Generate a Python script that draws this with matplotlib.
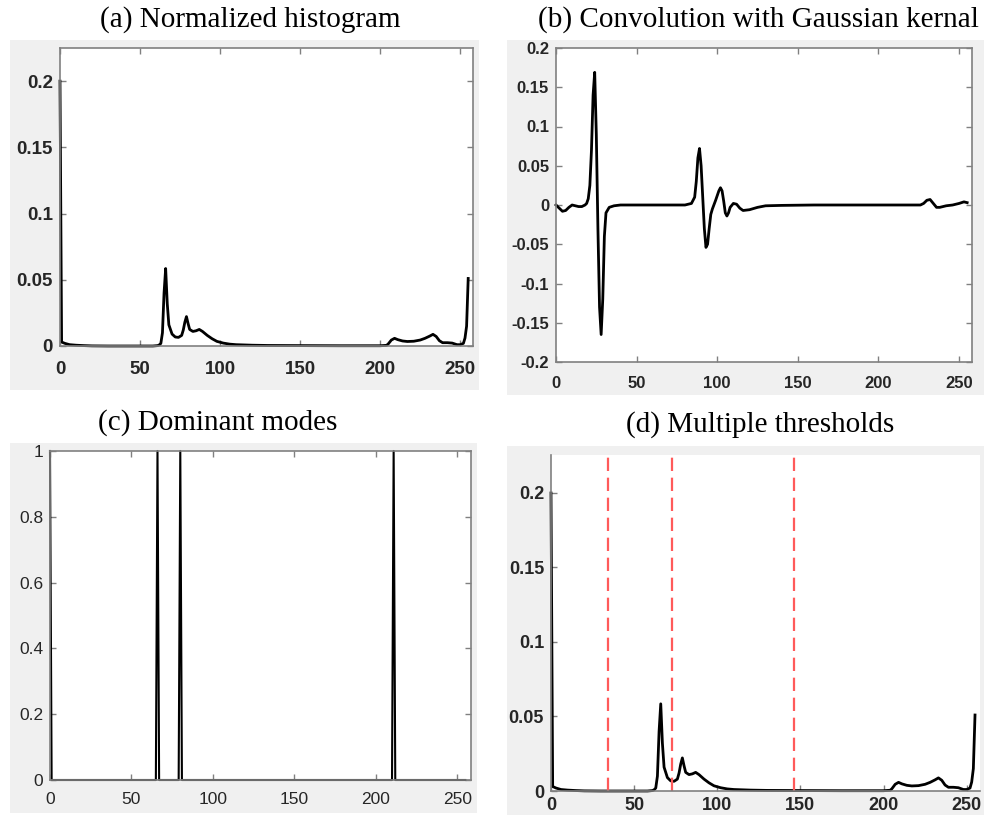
import numpy as np
import matplotlib
matplotlib.use("Agg")
import matplotlib.pyplot as plt
from matplotlib.patches import Rectangle

hist_x = [0, 1, 3, 6, 10, 15, 20, 30, 40, 50, 58, 61, 62, 63, 64, 65, 66, 67, 68, 70,
          72, 74, 76, 77, 78, 79, 80, 81, 83, 85, 87, 89, 92, 95, 98, 102, 106, 110,
          120, 130, 150, 175, 200, 204, 205, 207, 209, 211, 214, 217, 221, 225, 228,
          231, 233, 235, 237, 239, 242, 245, 248, 250, 252, 253, 254, 255]
hist_y = [0.200, 0.003, 0.002, 0.001, 0.0006, 0.0003, 0.0001, 0.0, 0.0, 0.0, 0.0,
          0.0003, 0.0008, 0.002, 0.010, 0.040, 0.0585, 0.032, 0.016, 0.009,
          0.0068, 0.0065, 0.008, 0.012, 0.018, 0.0222, 0.017, 0.0125, 0.011, 0.0115,
          0.0125, 0.011, 0.008, 0.0055, 0.0035, 0.0022, 0.0014, 0.0010,
          0.0006, 0.0004, 0.0003, 0.0002, 0.0002, 0.0005, 0.0015, 0.0045, 0.0058,
          0.0048, 0.0038, 0.0034, 0.0036, 0.0045, 0.0058, 0.0075, 0.0088, 0.0072,
          0.004, 0.0025, 0.0025, 0.0022, 0.0010, 0.0010, 0.002, 0.006, 0.015, 0.051]

# Convolution with derivative of Gaussian (panel b)
conv_x = [0, 2, 4, 6, 8, 10, 12, 14, 16, 18, 19, 20, 21, 22, 23, 24, 25, 26, 27, 28,
          29, 30, 31, 33, 36, 40, 60, 80, 84, 86, 87, 88, 89, 90, 91, 92, 93, 94, 95,
          96, 97, 99, 101, 102, 103, 104, 105, 106, 107, 108, 110, 112, 114, 116,
          120, 125, 130, 140, 160, 200, 226, 228, 230, 232, 234, 236, 238, 242, 246,
          250, 253, 255]
conv_y = [0.0, -0.004, -0.008, -0.007, -0.003, 0.0, -0.001, -0.002, -0.002, 0.0,
          0.002, 0.008, 0.025, 0.070, 0.140, 0.169, 0.090, -0.030, -0.130, -0.165,
          -0.120, -0.040, -0.010, -0.003, -0.001, 0.0, 0.0, 0.0, 0.002, 0.010,
          0.030, 0.060, 0.072, 0.050, 0.010, -0.030, -0.054, -0.050, -0.030, -0.012,
          -0.005, 0.006, 0.018, 0.022, 0.018, 0.005, -0.010, -0.014, -0.010, -0.003,
          0.002, 0.001, -0.004, -0.007, -0.006, -0.003, -0.001, -0.0005, 0.0, 0.0,
          0.0, 0.002, 0.006, 0.007, 0.002, -0.003, -0.003, -0.001, 0.0, 0.002,
          0.004, 0.003]

# Dominant modes (panel c) and thresholds (panel d)
mode_bins = [0, 66, 80, 211]
thresholds = [34, 73, 146]

levels = np.arange(256)
modes = np.zeros(256)
modes[mode_bins] = 1

W, H = 984, 815
fig = plt.figure(figsize=(W / 100, H / 100), dpi=100)


def frac(x0, y0, x1, y1):
    # pixel box (top-left origin) -> figure fraction [left, bottom, width, height]
    return [x0 / W, 1 - y1 / H, (x1 - x0) / W, (y1 - y0) / H]


# gray MATLAB figure backgrounds
for box in [(10, 40, 479, 390), (507, 40, 984, 395), (10, 443, 477, 813), (507, 446, 984, 815)]:
    l, b, w, h = frac(*box)
    fig.patches.append(Rectangle((l, b), w, h, transform=fig.transFigure,
                                 facecolor="#f0f0f0", edgecolor="none", zorder=-5))

tick_col = "#262626"
spine_col = "#808080"


def style(ax, size, weight, xpad, box=True):
    for s in ax.spines.values():
        s.set_color(spine_col)
        s.set_linewidth(1.2)
    if not box:
        ax.spines["top"].set_visible(False)
        ax.spines["right"].set_visible(False)
    ax.tick_params(direction="in", length=4, width=1, color=spine_col,
                   top=box, right=box, labelsize=size, labelcolor=tick_col)
    ax.tick_params(axis="x", pad=xpad)
    ax.tick_params(axis="y", pad=5)
    for lab in ax.get_xticklabels() + ax.get_yticklabels():
        lab.set_fontweight(weight)
        lab.set_family("Liberation Sans")


def fmt(v):
    return ("%g" % round(v, 3))


# (a) Normalized histogram
ax1 = fig.add_axes(frac(60, 48, 473, 346))
ax1.plot(hist_x, hist_y, color="black", lw=2.0, clip_on=False)
ax1.set_xlim(0, 258)
ax1.set_ylim(0, 0.225)
ax1.set_xticks([0, 50, 100, 150, 200, 250])
ax1.set_yticks([0, 0.05, 0.1, 0.15, 0.2])
ax1.set_yticklabels([fmt(v) for v in [0, 0.05, 0.1, 0.15, 0.2]])
style(ax1, 13.5, "bold", 11)

# (b) Convolution with Gaussian kernal
ax2 = fig.add_axes(frac(556, 48, 972, 362))
ax2.plot(conv_x, conv_y, color="black", lw=2.0, clip_on=False)
ax2.set_xlim(0, 258)
ax2.set_ylim(-0.2, 0.2)
ax2.set_xticks([0, 50, 100, 150, 200, 250])
yt = [-0.2, -0.15, -0.1, -0.05, 0, 0.05, 0.1, 0.15, 0.2]
ax2.set_yticks(yt)
ax2.set_yticklabels([fmt(v) for v in yt])
style(ax2, 12, "bold", 10)

# (c) Dominant modes
ax3 = fig.add_axes(frac(50, 451, 471, 780))
ax3.plot(levels, modes, color="black", lw=1.5, clip_on=False)
ax3.set_xlim(0, 258.5)
ax3.set_ylim(0, 1)
ax3.set_xticks([0, 50, 100, 150, 200, 250])
ax3.set_yticks([0, 0.2, 0.4, 0.6, 0.8, 1])
ax3.set_yticklabels([fmt(v) for v in [0, 0.2, 0.4, 0.6, 0.8, 1]])
style(ax3, 12.5, "normal", 9)

# (d) Multiple thresholds
ax4 = fig.add_axes(frac(551, 455, 980, 791))
ax4.plot(hist_x, hist_y, color="black", lw=2.0, clip_on=False)
for t in thresholds:
    ax4.axvline(t, color="#ff5a5a", lw=1.6, ls=(0, (6, 3)))
ax4.set_xlim(0, 258)
ax4.set_ylim(0, 0.2255)
ax4.set_xticks([0, 50, 100, 150, 200, 250])
ax4.set_yticks([0, 0.05, 0.1, 0.15, 0.2])
ax4.set_yticklabels([fmt(v) for v in [0, 0.05, 0.1, 0.15, 0.2]])
style(ax4, 13, "bold", 4, box=False)

# panel titles
title_font = dict(family="Liberation Serif", fontsize=21, ha="center", va="center")
fig.text(250 / W, 1 - 20 / H, "(a) Normalized histogram", **title_font)
fig.text(758 / W, 1 - 20 / H, "(b) Convolution with Gaussian kernal", **title_font)
fig.text(218 / W, 1 - 423 / H, "(c) Dominant modes", **title_font)
fig.text(760 / W, 1 - 425 / H, "(d) Multiple thresholds", **title_font)

plt.savefig("out.png", dpi=100)
